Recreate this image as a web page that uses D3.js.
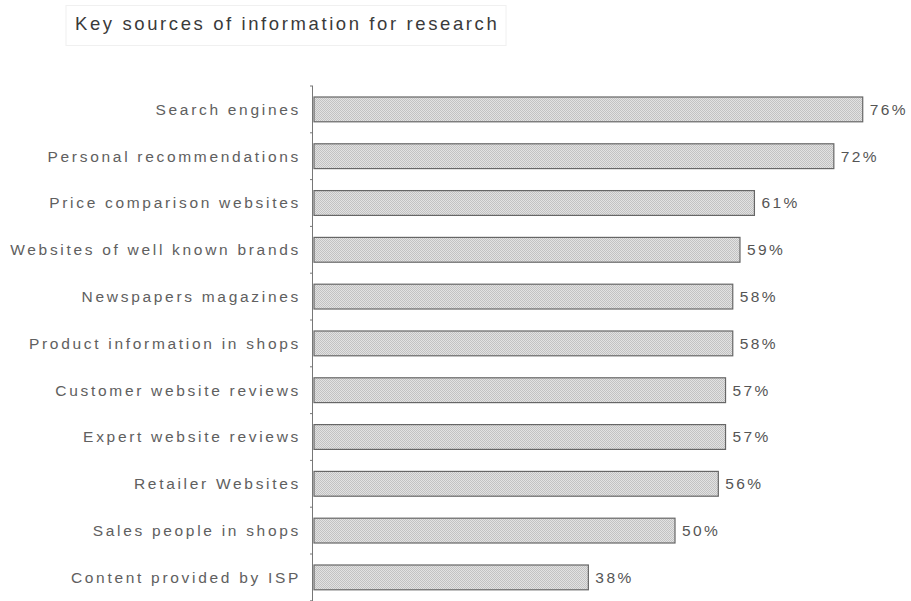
<!DOCTYPE html>
<html lang="en">
<head>
    <meta charset="UTF-8">
    <title>Key sources of information for research</title>
    <script src="https://d3js.org/d3.v7.min.js"></script>
    <style>
        body {
            margin: 0;
            background: #fff;
            font-family: Arial, 'Liberation Sans', sans-serif;
        }
        .title {
            font-size: 18.5px;
            letter-spacing: 2.6px;
            fill: #3a3a3a;
        }
        .cat-label {
            font-size: 15.5px;
            letter-spacing: 2.7px;
            fill: #606060;
        }
        .val-label {
            font-size: 15.5px;
            letter-spacing: 2.4px;
            fill: #555;
        }
    </style>
</head>
<body>
<div id="chart"></div>
<script>
    const width = 911;
    const height = 601;

    // data
    const categories = [
        "Search engines",
        "Personal recommendations",
        "Price comparison websites",
        "Websites of well known brands",
        "Newspapers magazines",
        "Product information in shops",
        "Customer website reviews",
        "Expert website reviews",
        "Retailer Websites",
        "Sales people in shops",
        "Content provided by ISP"
    ];
    const values = [76, 72, 61, 59, 58, 58, 57, 57, 56, 50, 38];

    const margin = { top: 86, left: 314 };

    const svg = d3.select("#chart").append("svg")
        .attr("width", width)
        .attr("height", height);

    // dotted grey fill like the original
    const defs = svg.append("defs");
    const pat = defs.append("pattern")
        .attr("id", "dots")
        .attr("width", 2)
        .attr("height", 2)
        .attr("patternUnits", "userSpaceOnUse");
    pat.append("rect").attr("width", 2).attr("height", 2).attr("fill", "#e2e2e2");
    pat.append("rect").attr("width", 1).attr("height", 1).attr("fill", "#c2c2c2");
    pat.append("rect").attr("x", 1).attr("y", 1).attr("width", 1).attr("height", 1).attr("fill", "#c2c2c2");

    // title with its faint box
    svg.append("rect")
        .attr("x", 66)
        .attr("y", 5.5)
        .attr("width", 440)
        .attr("height", 40)
        .attr("fill", "none")
        .attr("stroke", "#f0f0f0");
    svg.append("text")
        .attr("class", "title")
        .attr("x", 75)
        .attr("y", 30)
        .text("Key sources of information for research");

    const y = d3.scaleBand()
        .domain(categories)
        .range([margin.top, margin.top + 11 * 46.8])
        .paddingInner(0.47)
        .paddingOuter(0.235);

    const x = d3.scaleLinear()
        .domain([0, 100])
        .range([margin.left, margin.left + 722]);

    const g = svg.append("g");

    // axis line with ticks between categories
    g.append("line")
        .attr("x1", margin.left - 1.5)
        .attr("x2", margin.left - 1.5)
        .attr("y1", margin.top)
        .attr("y2", height)
        .attr("stroke", "#777");

    const step = y.step();
    const tickYs = d3.range(categories.length + 1).map(i => y(categories[0]) - y.paddingOuter() * step + i * step);
    g.selectAll(".tick")
        .data(tickYs)
        .enter()
        .append("line")
        .attr("x1", margin.left - 4)
        .attr("x2", margin.left - 1)
        .attr("y1", d => d)
        .attr("y2", d => d)
        .attr("stroke", "#777");

    g.selectAll(".bar")
        .data(values)
        .enter()
        .append("rect")
        .attr("x", x(0))
        .attr("y", (d, i) => y(categories[i]))
        .attr("width", d => x(d) - x(0))
        .attr("height", y.bandwidth())
        .attr("fill", "url(#dots)")
        .attr("stroke", "#666")
        .attr("stroke-width", 1.2);

    g.selectAll(".cat-label")
        .data(categories)
        .enter()
        .append("text")
        .attr("class", "cat-label")
        .attr("x", margin.left - 13)
        .attr("y", d => y(d) + y.bandwidth() / 2)
        .attr("dy", "0.35em")
        .attr("text-anchor", "end")
        .text(d => d);

    g.selectAll(".val-label")
        .data(values)
        .enter()
        .append("text")
        .attr("class", "val-label")
        .attr("x", d => x(d) + 7)
        .attr("y", (d, i) => y(categories[i]) + y.bandwidth() / 2)
        .attr("dy", "0.35em")
        .text(d => d + "%");
</script>
</body>
</html>
